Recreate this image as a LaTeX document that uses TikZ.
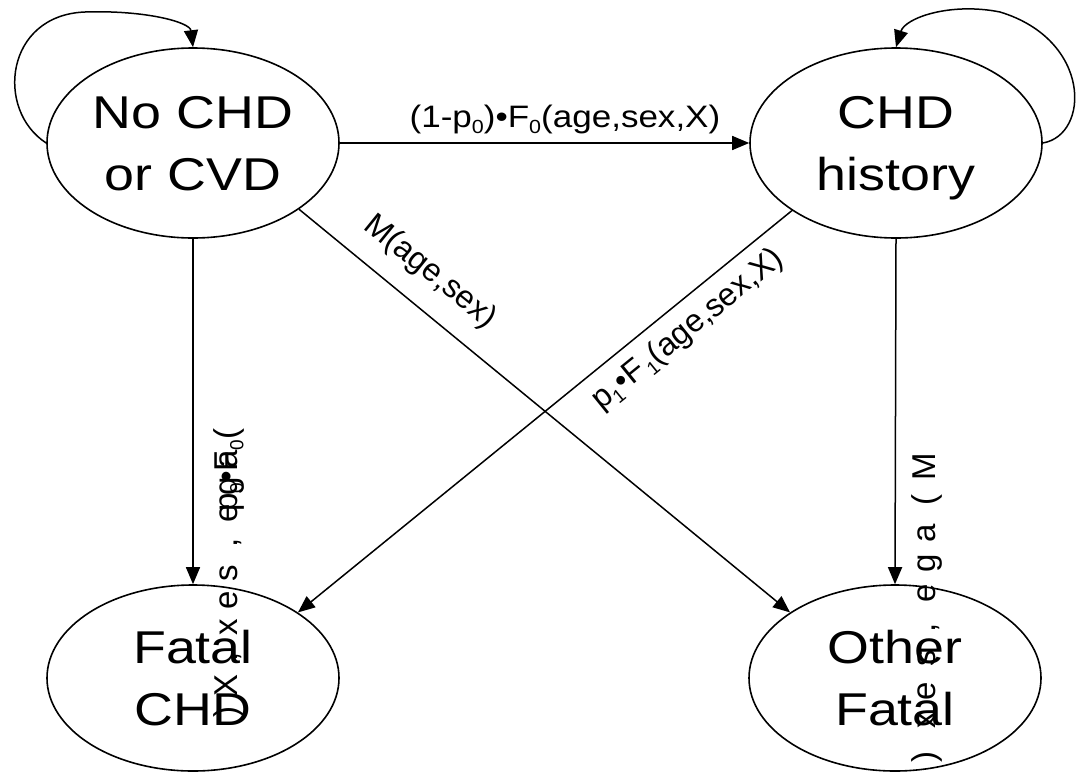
\documentclass[tikz,border=0pt]{standalone}
\usepackage{fontspec}
\setmainfont{Liberation Sans}
\newfontfamily\statefont[FakeStretch=1.17]{Liberation Sans}
\newfontfamily\hlabfont[FakeStretch=1.13]{Liberation Sans}
\usetikzlibrary{shapes.geometric,arrows.meta}
\newcommand{\sbs}[1]{\raisebox{-6pt}{\fontsize{19}{19}\selectfont #1}}
\begin{document}
\begin{tikzpicture}[x=1pt,y=-1pt,
  state/.style={ellipse, draw, line width=1.6pt, minimum width=292pt, minimum height=190pt,
    inner sep=0pt, align=center, font=\statefont\fontsize{46}{62}\selectfont, text depth=0pt},
  arr/.style={line width=1.5pt, -{Triangle[length=17pt,width=14pt]}},
  lab/.style={font=\fontsize{31}{31}\selectfont, inner sep=0pt},
  glyph/.style={inner sep=0pt, font=\fontsize{33}{33}\selectfont, rotate=90,
    text height=23.5pt, text depth=7pt, anchor=center}
]
\useasboundingbox (0,0) rectangle (1078,774);
% states
\node[state] (a) at (193,143) {No CHD\\or CVD};
\node[state] (b) at (896,143) {CHD\\history};
\node[state, minimum height=186pt] (c) at (193,678) {Fatal\\CHD};
\node[state, minimum height=186pt] (d) at (895,678) {Other\\Fatal};
% transitions
\draw[arr] (a.east) -- (b.west)
  node[lab, font=\hlabfont\fontsize{31}{31}\selectfont, pos=0.55, anchor=base, yshift=16pt] (l1)
  {(1-p\sbs0)•F\sbs0(age,sex,X)};
\draw[arr] (a.south) -- (c.north);
\draw[arr] (b.south) -- (d.north);
\draw[arr] (a.-32) -- (d.148);
\draw[arr] (b.-147) -- (c.32);
% self loops
\draw[arr] (a.west) .. controls (-5,110) and (5,15) .. (85,12)
  .. controls (145,10) and (190,22) .. (a.north);
\draw[arr] (b.east) .. controls (1090,135) and (1092,40) .. (1000,12)
  .. controls (950,2) and (905,18) .. (b.north);
% diagonal labels
\node[lab, font=\fontsize{32}{32}\selectfont, rotate=-39] (l2) at (430,272) {M(age,sex)};
\node[lab, font=\fontsize{32}{32}\selectfont, rotate=39] (l3) at (688,330) {p\sbs1•F\hspace{3pt}\sbs1(age,sex,X)};
% garbled vertical label, left
\node[glyph] (gup) at (229,476) {p\sbs0•F\sbs0};
\node[glyph] (g1) at (229,434) {(};
\node[glyph] (g2) at (229,459) {a};
\node[glyph] (g3) at (229,486) {g};
\node[glyph] (g4) at (229,513) {e};
\node[glyph] (g5) at (229,543) {,};
\node[glyph] (g6) at (229,573) {s};
\node[glyph] (g7) at (229,600) {e};
\node[glyph] (g8) at (229,627) {x};
\node[glyph] (g9) at (229,657) {,};
\node[glyph] (g10) at (229,685) {X};
\node[glyph] (g11) at (229,712) {)};
% garbled vertical label, right
\node[glyph] (h1) at (927,467) {M};
\node[glyph] (h2) at (927,500) {(};
\node[glyph] (h3) at (927,533) {a};
\node[glyph] (h4) at (927,563) {g};
\node[glyph] (h5) at (927,593) {e};
\node[glyph] (h6) at (927,628) {,};
\node[glyph] (h7) at (927,658) {s};
\node[glyph] (h8) at (927,691) {e};
\node[glyph] (h9) at (927,720) {x};
\node[glyph] (h10) at (927,757) {)};
\end{tikzpicture}
\end{document}
